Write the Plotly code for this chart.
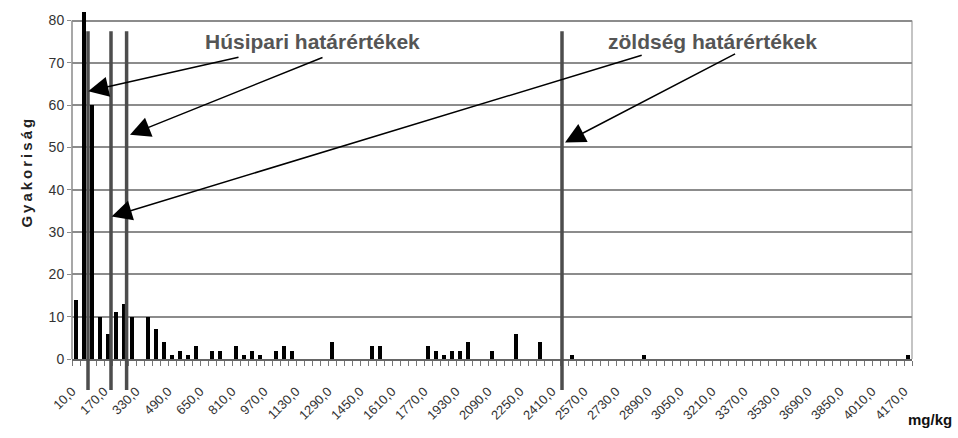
import plotly.graph_objects as go

# Categories (mg/kg bin centres)
categories = list(range(10, 4171, 40))

# Frequencies (Gyakoriság) per category
values = [
    14, 82, 60, 10, 6, 11, 13, 10, 0, 10,
    7, 4, 1, 2, 1, 3, 0, 2, 2, 0,
    3, 1, 2, 1, 0, 2, 3, 2, 0, 0,
    0, 0, 4, 0, 0, 0, 0, 3, 3, 0,
    0, 0, 0, 0, 3, 2, 1, 2, 2, 4,
    0, 0, 2, 0, 0, 6, 0, 0, 4, 0,
    0, 0, 1, 0, 0, 0, 0, 0, 0, 0,
    0, 1, 0, 0, 0, 0, 0, 0, 0, 0,
    0, 0, 0, 0, 0, 0, 0, 0, 0, 0,
    0, 0, 0, 0, 0, 0, 0, 0, 0, 0,
    0, 0, 0, 0, 1,
]

# Threshold lines (mg/kg): meat industry and vegetable limits
meat_limits = [70, 185, 263]
veg_limits = [2440]
limit_top = 77.5
limit_bottom = -7.3

y_min, y_grid_max, y_range_max = 0, 80, 82.5

# Arrows: (tip_x, tip_y, tail_x, tail_y) in data coordinates
meat_arrows = [(71, 63.3, 830, 71.4), (280, 53.0, 1250, 71.4)]
veg_arrows = [(188, 33.7, 2846, 71.9), (2455, 51.2, 3313, 72.3)]


def yp(v):
    return (v - y_min) / (y_range_max - y_min)


fig = go.Figure()
fig.add_trace(go.Bar(
    x=categories, y=values, width=16,
    marker=dict(color="#000000", line=dict(width=0)),
    showlegend=False, hoverinfo="skip",
))

shapes = []
# plot frame: left and right borders only up to the top gridline
for xp, col in [(0, "#8a8a8a"), (1, "#b0b0b0")]:
    shapes.append(dict(type="line", xref="paper", yref="y", x0=xp, x1=xp,
                       y0=y_min, y1=y_grid_max, line=dict(color=col, width=1.5),
                       layer="below"))
for v in meat_limits + veg_limits:
    shapes.append(dict(
        type="line", xref="x", yref="paper",
        x0=v, x1=v, y0=yp(limit_bottom), y1=yp(limit_top),
        line=dict(color="#4d4d4d", width=3.5), layer="above",
    ))

annotations = []
for tx, ty, ax, ay in meat_arrows + veg_arrows:
    annotations.append(dict(
        x=tx, y=ty, xref="x", yref="y", ax=ax, ay=ay, axref="x", ayref="y",
        showarrow=True, arrowhead=2, arrowsize=2.7, arrowwidth=1.5,
        arrowcolor="#000000", text="", standoff=0,
    ))

annotations += [
    dict(x=1192, y=75, xref="x", yref="y", text="<b>Húsipari határértékek</b>",
         xanchor="center", yanchor="middle",
         showarrow=False, font=dict(family="Liberation Sans, Arial", size=21, color="#555555")),
    dict(x=3193, y=75, xref="x", yref="y", text="<b>zöldség határértékek</b>",
         xanchor="center", yanchor="middle",
         showarrow=False, font=dict(family="Liberation Sans, Arial", size=21, color="#555555")),
    dict(x=-0.0536, y=yp(44.3), xref="paper", yref="paper", textangle=-90,
         xanchor="center", yanchor="middle",
         text='<b><span style="letter-spacing:3px">Gyakoriság</span></b>',
         showarrow=False, font=dict(family="Liberation Sans, Arial", size=15, color="#222222")),
    dict(x=1.0214, y=yp(-14.4), xref="paper", yref="paper", text="<b>mg/kg</b>",
         xanchor="center", yanchor="middle",
         showarrow=False, font=dict(family="Liberation Sans, Arial", size=15, color="#111111")),
]

fig.update_layout(
    width=958, height=438,
    margin=dict(l=72, r=46, t=10, b=79),
    paper_bgcolor="white", plot_bgcolor="white",
    separators=",.",
    bargap=0,
    hovermode=False,
    shapes=shapes, annotations=annotations,
    font=dict(family="Liberation Sans, Arial", color="#333333"),
    xaxis=dict(
        range=[-10, 4190], tickmode="linear", tick0=10, dtick=160,
        tickformat=".1f", tickangle=-45, ticks="", showgrid=False,
        tickfont=dict(size=13, color="#333333"),
        ticklabelstandoff=18, ticklabelshift=-4,
        showline=True, linecolor="#666666", linewidth=1.5, mirror=False,
        minor=dict(tickmode="linear", tick0=-10, dtick=40, ticks="outside",
                   ticklen=5, tickcolor="#777777", tickwidth=1, showgrid=False),
        zeroline=False, automargin=False, fixedrange=True,
    ),
    yaxis=dict(
        range=[y_min, y_range_max], tickmode="linear", tick0=0, dtick=10,
        showgrid=True, gridcolor="#8c8c8c", gridwidth=1.5,
        ticks="outside", ticklen=4, tickcolor="#8c8c8c",
        tickfont=dict(size=14, color="#333333"),
        showline=False, zeroline=False, automargin=False, fixedrange=True,
    ),
)

fig.write_html("out.html", config={"displayModeBar": False},
               post_script="document.body.style.margin='0';")
